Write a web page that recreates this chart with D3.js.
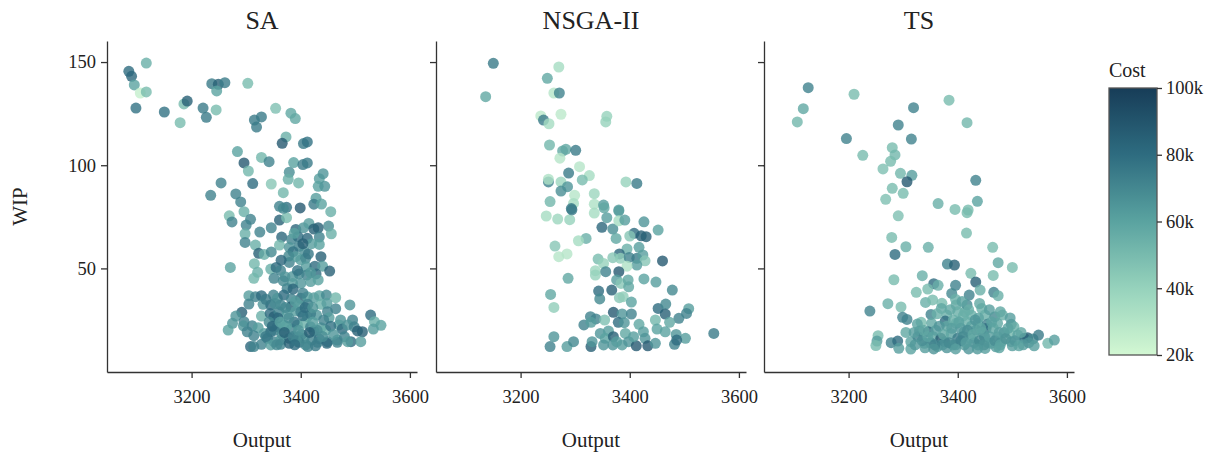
<!DOCTYPE html>
<html>
<head>
<meta charset="utf-8">
<script src="https://cdn.jsdelivr.net/npm/d3@7"></script>
<style>
  body { margin: 0; background: #fff; }
  svg text { font-family: "Liberation Serif", "DejaVu Serif", serif; fill: #222; }
</style>
</head>
<body>
<svg id="chart" width="1215" height="454"></svg>
<script>
// Points are [output, wip, cost in k]

var panelTitles = ["SA", "NSGA-II", "TS"];
var xTicks = [3200, 3400, 3600];
var yTicks = [50, 100, 150];
var costTicks = [20, 40, 60, 80, 100];

var saPoints = [
  [3117,149.5,55],[3085,145.5,80],[3090,143.1,82],[3095,138.9,60],[3106,135,25],[3117,135.5,50],
  [3098,127.7,78],[3150,125.8,78],[3186,129.7,50],[3192,131.1,85],[3179,120.6,50],[3221,127.7,75],
  [3227,123.2,75],[3245,126.8,50],[3237,139.5,75],[3249,139.2,85],[3261,140,75],[3246,136,60],
  [3303,139.7,50],[3354,127.6,48],[3382,125.2,58],[3390,122.6,58],[3315,121.9,75],[3328,123.4,75],
  [3319,118.5,75],[3373,113.7,55],[3366,110.6,88],[3405,110.5,75],[3412,111.3,78],[3284,106.6,60],
  [3296,101.1,88],[3328,103.8,52],[3342,101.7,72],[3304,97.2,52],[3387,101.3,60],[3404,100.3,75],
  [3412,101.1,75],[3379,96.6,68],[3377,93.2,55],[3396,91.4,52],[3346,90.9,45],[3312,91.1,80],
  [3254,91.4,72],[3235,85.4,72],[3281,86.1,72],[3290,82.2,72],[3368,86.7,52],[3434,93.5,62],
  [3441,95.9,65],[3432,89.8,60],[3444,89.8,65],[3428,84,62],[3424,81.1,75],[3438,81.2,60],
  [3361,80.1,72],[3374,79.6,78],[3399,79.3,88],[3455,77.5,55],
  [3269,75.5,50],[3274,72.5,72],[3296,77.5,55],[3308,73.8,72],[3300,71,72],[3298,66.8,55],
  [3325,67.6,72],[3346,69.7,72],[3361,73.4,85],[3374,74.6,50],[3368,79.1,70],[3451,70.5,68],
  [3456,66.8,55],[3391,68.9,82],[3405,69.7,65],[3415,71.8,62],[3424,69.1,85],[3432,69.7,85],
  [3365,65.2,82],[3383,64.1,72],[3395,65.4,80],[3412,64.6,82],[3434,65.2,72],[3298,62.6,72],
  [3317,61.3,55],[3323,57.3,85],[3333,56.8,55],[3361,61.3,52],[3379,60.2,65],[3397,60.7,72],
  [3420,62,62],[3434,61.6,60],[3407,58.1,68],[3386,58.1,78],[3437,55.7,85],[3271,50.5,60],
  [3315,52.3,52],[3321,48.1,55],[3314,45.2,52],[3345,49.7,55],[3355,50.5,80],[3363,49,72],
  [3379,52.9,72],[3391,55.7,62],[3400,54.1,62],[3409,54.9,70],[3410,50.8,62],[3426,51.1,80],
  [3440,51.1,62],[3453,48.7,85],[3351,45.2,72],[3371,46,65],[3385,46.1,65],[3397,47.3,70],
  [3411,46.8,72],[3428,47.3,80],[3385,42.7,62],[3400,42.7,65],[3418,43.6,62],[3432,44.4,60],
  [3375,40.3,72],
  [3305,36.8,62],[3317,36.3,72],[3328,36.8,80],[3305,32.7,72],[3331,32.6,65],[3350,37.1,72],
  [3357,35.5,65],[3369,37.1,80],[3383,35.2,72],[3400,35.5,85],[3412,36.3,60],[3424,35.8,62],
  [3434,36.8,60],[3447,37.1,70],[3464,35.8,52],[3345,32.3,80],[3363,32.3,72],[3382,31.4,85],
  [3397,32.3,62],[3413,32.6,72],[3437,32.6,55],[3448,33.1,62],[3490,32.3,65],[3464,30.5,72],
  [3292,28.7,85],[3281,26.9,65],[3275,23.4,65],[3267,20.1,60],[3296,24.2,72],[3328,26.9,55],
  [3344,28.2,80],[3351,26.6,85],[3360,29,72],[3375,27.7,62],[3391,29.3,62],[3400,29,72],
  [3412,26.6,62],[3429,27.4,65],[3449,29,72],[3452,26.1,62],[3473,25,65],[3495,25,72],
  [3528,27.4,80],[3535,24.2,55],[3547,22.4,60],[3295,22.2,65],[3302,19.3,72],[3311,22.2,72],
  [3322,21.3,62],[3314,17.4,72],[3333,18.5,62],[3345,19.3,80],[3357,21.7,72],[3369,22.6,62],
  [3383,20.6,72],[3394,22.6,62],[3406,23.4,55],[3418,21.7,72],[3424,19.7,80],[3437,21.3,62],
  [3446,20.1,55],[3470,22.6,62],[3476,20.6,80],[3486,22.6,65],[3498,21.7,72],[3504,19.7,85],
  [3513,19.3,85],[3533,20.6,62],[3339,16.1,80],[3351,14.5,72],[3363,15.3,62],[3379,16.1,85],
  [3394,16.9,72],[3406,16.1,62],[3420,15.3,72],[3434,15.8,80],[3449,14.5,72],[3467,15.3,62],
  [3480,16.9,72],[3492,14.5,80],[3510,14.5,62],[3308,12.1,82],[3314,12.1,72],[3328,13.2,72],
  [3345,12.9,62],[3363,13.2,72],[3379,13.7,85],[3397,14.2,80],[3413,12.1,72],[3431,14.2,72],
  [3448,13.7,82],[3467,14.2,72],[3486,14.5,62],
  [3352,20,75],[3366,18,68],[3388,24,78],[3402,18,70],[3374,22,60],[3358,26,82],
  [3392,15,66],[3418,28,74],[3342,24,70],[3430,20,68],
  [3336,17,75],[3348,22,82],[3356,13,70],[3362,24,60],[3370,19,85],[3378,26,68],
  [3386,17,72],[3389,13,80],[3396,20,65],[3404,27,78],[3409,13,70],[3416,19,85],
  [3422,24,62],[3427,12.5,75],[3440,17,68],[3442,25,72],[3455,22,78],[3460,18,65],
  [3372,31,70],[3390,34,62],[3408,31,80],[3353,33,68],[3336,35,75],[3422,31,66],
  [3386,40,82],[3368,44,70],[3404,38,72],[3394,49,78],[3378,56,70],[3404,62,85],
  [3388,67,60],[3414,57,76],[3364,54,82],[3418,48,64],[3346,58,70]
];

var nsgaPoints = [
  [3150,149.4,75],[3270,147.6,35],[3249,142.1,58],[3136,133.2,58],[3261,135,30],[3271,135,72],
  [3237,123.9,28],[3242,121.9,75],[3252,120.1,35],[3274,124.7,28],[3358,123.7,40],[3356,121,40],
  [3253,109.8,52],[3277,106.9,58],[3283,107.7,58],[3301,107.2,75],[3272,103.4,30],[3308,99.3,30],
  [3326,95,35],[3288,96.2,75],[3251,91.9,72],[3251,93.2,32],[3274,91.9,38],[3286,89.6,65],
  [3274,87.5,68],[3313,92.9,50],[3393,91.9,40],[3413,91.2,75],[3299,85.4,30],[3335,86.2,38],
  [3254,82.4,52],[3297,81.5,35],[3335,81.1,32],[3352,80.7,62],[3380,78.3,62],[3293,79,75],
  [3247,75.4,35],[3268,73.9,38],[3290,73.6,40],[3294,78.4,75],[3335,76.8,35],[3353,79.4,58],
  [3380,77.8,62],[3358,74.6,62],[3349,69.9,82],[3369,69.1,68],[3380,73.1,35],[3391,73.4,62],
  [3426,72.6,65],[3452,68.6,60],[3408,67,80],[3421,65.8,85],[3430,65.4,85],[3400,65.7,45],
  [3375,64.5,58],[3320,64.5,55],[3306,63.4,35],[3263,60.8,45],[3270,55.7,30],[3285,57,30],
  [3395,59.4,55],[3417,60.2,62],[3381,57,82],[3369,55.2,45],[3383,54.9,42],[3399,55.3,72],
  [3413,54.9,75],[3424,56.5,62],[3428,53.7,45],[3413,51.6,62],[3395,51.1,32],[3460,53.6,88],
  [3342,54.5,50],[3352,52.4,40],[3337,48.9,38],[3337,46.8,40],[3356,48.4,72],[3380,48.4,88],
  [3287,45.2,58],[3376,44.4,62],[3384,42.7,45],[3397,44.4,58],[3398,41.1,58],[3426,44.9,60],
  [3448,43.4,62],[3343,39,80],[3345,35.2,70],[3367,39.5,85],[3381,35.8,45],[3388,36.3,42],
  [3403,33.7,60],[3255,37.4,58],[3261,31.1,42],[3478,39.5,70],[3452,30.6,80],[3466,32.7,70],
  [3465,27.9,85],[3508,30.5,62],[3504,28.2,72],[3490,25.8,72],[3473,23.9,58],[3370,28.7,88],
  [3386,27.9,65],[3403,27.9,72],[3328,26.6,72],[3338,25.5,72],[3316,22.6,72],[3329,23.9,62],
  [3354,25,48],[3379,23.9,80],[3390,23.7,65],[3417,22.9,58],[3447,25,52],[3450,20.6,60],
  [3465,19.3,60],[3485,18,65],[3502,16.1,62],[3554,18.5,75],[3261,16.9,65],[3254,12.1,72],
  [3285,12.1,62],[3297,14.5,70],[3329,12.1,85],[3331,14.5,65],[3346,18.5,65],[3361,19.7,62],
  [3355,16.1,60],[3370,16.9,85],[3369,12.9,65],[3386,12.9,62],[3392,18.5,58],[3398,14.5,65],
  [3412,12.5,88],[3425,19.3,62],[3428,16.1,65],[3433,12.5,88],[3447,13.7,65],[3407,16.9,62],
  [3482,13.2,72],[3486,15.3,80],[3352,12.9,65],[3376,14.5,62]
];

var tsPoints = [
  [3126,137.6,72],[3117,127.4,58],[3106,121,52],[3210,134.4,50],[3196,112.9,72],[3226,104.8,50],
  [3319,127.9,72],[3291,119.5,72],[3315,112.7,72],[3384,131.5,50],[3417,120.6,52],[3280,108.5,50],
  [3285,105,52],[3277,101.9,50],[3263,98.2,48],[3295,96.1,52],[3316,95.1,62],[3307,92,88],
  [3280,88.8,50],[3300,86.4,50],[3268,83.5,48],[3433,92.7,72],[3436,82.5,60],[3364,81.4,55],
  [3395,78.6,50],[3419,78.3,50],[3417,77,50],
  [3291,75.5,48],[3279,65,50],[3305,60.5,55],[3285,56.8,80],[3346,60.2,55],[3416,67.1,50],
  [3464,60.2,50],[3474,52.8,58],[3500,50.5,50],[3381,52.1,72],[3394,51.6,85],[3283,44.5,50],
  [3335,46.5,55],[3356,42.6,80],[3364,41.8,55],[3396,41.8,72],[3424,47.6,50],[3433,43.4,85],
  [3441,39.5,55],[3465,46.6,50],[3466,38.4,72],[3474,36.8,55],[3324,38.4,50],[3345,40,50],
  [3389,37.9,70],[3421,37.1,72],[3239,29.3,72],[3272,32.9,55],[3296,31.3,50],[3299,26.3,72],
  [3307,25.3,72],[3341,33.5,55],[3354,34.7,50],[3371,33.1,50],[3351,27.7,72],[3370,30.6,58],
  [3380,27.4,55],[3397,32.3,58],[3413,29,58],[3417,32.3,70],[3425,27.4,55],[3444,30.6,55],
  [3450,27.4,55],[3468,26.6,70],[3482,27.4,55],[3333,23.9,50],[3352,23.4,58],[3377,24.5,80],
  [3397,23.4,55],[3416,24.2,55],[3437,23.4,60],[3454,22.9,72],[3473,23.4,58],[3498,22.9,70],
  [3503,21.7,55],[3254,17.4,50],[3252,14.8,62],[3250,12.6,50],[3278,14,72],[3290,14.8,80],
  [3292,11.3,62],[3305,19,58],[3314,14.5,60],[3314,10.9,60],[3327,16.9,72],[3330,19.7,70],
  [3339,13.7,62],[3346,19.3,80],[3355,16.9,58],[3363,12.1,62],[3369,16.1,88],[3376,14.5,80],
  [3388,18.5,60],[3391,12.9,62],[3400,16.1,75],[3412,19.3,55],[3412,12.9,62],[3424,16.1,60],
  [3434,20.1,75],[3437,12.9,62],[3449,16.9,70],[3452,20.9,80],[3461,13.7,62],[3473,16.9,58],
  [3480,14.5,62],[3495,18.5,52],[3498,14.5,62],[3510,17.7,60],[3522,16.1,80],[3528,16.4,85],
  [3538,15.8,70],[3548,17.7,75],[3565,13.7,52],[3577,15.3,62],
  [3360,20,62],[3380,22,58],[3405,21,65],[3425,22,60],[3445,19,62],[3465,21,58],
  [3485,19,65],[3392,25,55],[3410,17,70],[3430,14,65],[3455,14,60],[3372,13,65],
  [3350,14,70],[3320,19,62],[3410,27,55],[3438,26,60],[3400,29,55],[3470,12,62],
  [3500,12.5,62],[3520,13,62],[3380,11.5,65],[3340,11.5,62],[3420,11,65],[3450,11.2,62],
  [3335,15,68],[3345,17,60],[3358,13,72],[3366,22,65],[3374,18,58],[3384,14,70],
  [3389,21,62],[3396,13,68],[3402,24,60],[3406,15,72],[3415,14,62],[3418,20,68],
  [3428,18,58],[3432,25,65],[3440,15,70],[3442,21,58],[3448,13,66],[3458,17,62],
  [3462,24,60],[3468,15,68],[3476,19,62],[3478,13,60],[3488,16,66],[3492,21,60],
  [3505,15,65],[3512,12.5,60],[3516,19,58],[3530,14,65],[3540,12.5,62],[3322,13,64],
  [3326,23,60],[3338,20,58],[3362,28,55],[3386,30,58],[3420,30,55],[3440,33,58],
  [3396,35,55],[3408,34,60],[3458,30,62],[3478,29,58],[3496,26,62],[3356,11,66],
  [3396,11,62],[3436,11,64],[3476,11.5,60]
];

var allPanels = [saPoints, nsgaPoints, tsPoints];

var svg = d3.select("#chart");
var panelLeft = [107, 436, 764];
var panelW = 310, plotTop = 41, plotBottom = 372;
var axisColor = "#333";
var serif = "Liberation Serif, DejaVu Serif, serif";

// Cost colour map, light mint to dark navy
var color = d3.scaleLinear()
    .domain([20, 40, 60, 80, 100])
    .range(["#d3f8d3", "#96d2bc", "#5aa3a0", "#2e6c80", "#173d58"])
    .interpolate(d3.interpolateRgb)
    .clamp(true);

var y = d3.scaleLinear().domain([-0.2, 160.2]).range([plotBottom, plotTop]);

for (let i = 0; i < 3; i++) {
    let left = panelLeft[i];
    let x = d3.scaleLinear().domain([3045, 3613]).range([left, left + panelW]);
    let g = svg.append("g");

    // Points
    g.append("g").selectAll("circle")
        .data(allPanels[i])
        .join("circle")
        .attr("cx", d => x(d[0]))
        .attr("cy", d => y(d[1]))
        .attr("r", 5.5)
        .attr("fill", d => color(d[2]))
        .attr("fill-opacity", 0.8);

    // X axis
    let xa = g.append("g").attr("transform", "translate(0," + plotBottom + ")")
        .call(d3.axisBottom(x).tickValues(xTicks).tickFormat(d3.format("d"))
            .tickSize(6).tickPadding(12).tickSizeOuter(0));
    // Y axis
    let ya = g.append("g").attr("transform", "translate(" + left + ",0)")
        .call(d3.axisLeft(y).tickValues(yTicks).tickSize(6).tickPadding(5).tickSizeOuter(0));
    if (i > 0) ya.selectAll("text").remove();

    [xa, ya].forEach(function (a) {
        a.select(".domain").attr("stroke", axisColor).attr("stroke-width", 1.3);
        a.selectAll(".tick line").attr("stroke", axisColor).attr("stroke-width", 1.3);
        a.selectAll("text").attr("font-size", 18.5).attr("fill", "#222").attr("font-family", serif);
    });

    // Title
    g.append("text")
        .attr("x", left + panelW / 2).attr("y", 29)
        .attr("text-anchor", "middle").attr("font-size", 26)
        .text(panelTitles[i]);

    // X label
    g.append("text")
        .attr("x", left + panelW / 2).attr("y", 447)
        .attr("text-anchor", "middle").attr("font-size", 21)
        .text("Output");
}

// Y label
svg.append("text")
    .attr("transform", "translate(27," + ((plotTop + plotBottom) / 2) + ") rotate(-90)")
    .attr("text-anchor", "middle").attr("font-size", 21)
    .text("WIP");

// Colourbar
var cbX = 1109, cbW = 48, cbTop = 88, cbBottom = 355;
var cScale = d3.scaleLinear().domain([20, 100]).range([cbBottom, cbTop]);
var grad = svg.append("defs").append("linearGradient")
    .attr("id", "costGrad").attr("x1", 0).attr("y1", 1).attr("x2", 0).attr("y2", 0);
d3.range(0, 1.0001, 0.05).forEach(function (t) {
    grad.append("stop").attr("offset", t).attr("stop-color", color(20 + 80 * t));
});
svg.append("rect")
    .attr("x", cbX).attr("y", cbTop).attr("width", cbW).attr("height", cbBottom - cbTop)
    .attr("fill", "url(#costGrad)").attr("stroke", "#555").attr("stroke-width", 1.3);
var ca = svg.append("g").attr("transform", "translate(" + (cbX + cbW) + ",0)")
    .call(d3.axisRight(cScale).tickValues(costTicks).tickSize(5).tickPadding(4)
        .tickFormat(d => d + "k").tickSizeOuter(0));
ca.select(".domain").remove();
ca.selectAll(".tick line").attr("stroke", axisColor).attr("stroke-width", 1.3);
ca.selectAll("text").attr("font-size", 18.5).attr("fill", "#222").attr("font-family", serif);
svg.append("text")
    .attr("x", cbX).attr("y", 77).attr("font-size", 20)
    .text("Cost");
</script>
</body>
</html>
